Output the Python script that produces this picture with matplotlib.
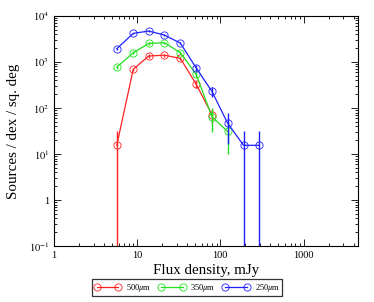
import matplotlib
matplotlib.use("Agg")
import matplotlib.pyplot as plt
import numpy as np
from matplotlib.ticker import FixedLocator, LogLocator, NullFormatter

plt.rcParams['font.family'] = ['Liberation Serif', 'DejaVu Serif']
plt.rcParams['mathtext.fontset'] = 'stix'

# data
x500 = [5.7, 9.0, 13.8, 21.3, 33.1, 51.1, 79.4]
y500 = [15.5, 700, 1350, 1410, 1200, 333, 72]
e500 = [15.5, 60, 110, 120, 100, 60, 25]

x350 = [5.7, 9.0, 13.8, 21.3, 33.1, 51.1, 79.4, 122]
y350 = [776, 1590, 2540, 2630, 1590, 546, 64.5, 31]
e350 = [60, 110, 140, 140, 110, 70, 35, 21]

x250 = [5.7, 9.0, 13.8, 21.3, 33.1, 51.1, 79.4, 122, 190, 294]
y250 = [1945, 4200, 4710, 3855, 2580, 750, 229, 47.6, 15.5, 15.5]
e250 = [110, 160, 180, 150, 130, 100, 57, 31, 15.5, 15.5]

labels = ['500$\\mu$m', '350$\\mu$m', '250$\\mu$m']
colors = ['#ff2020', '#20e020', '#2020ff']

fig = plt.figure(figsize=(3.74, 3.02), dpi=100)
ax = fig.add_axes([0.144, 0.185, 0.813, 0.762])

handles = []
for xs, ys, es, lab, c in zip([x500, x350, x250], [y500, y350, y250],
                              [e500, e350, e250], labels, colors):
    ys = np.array(ys, float)
    es = np.array(es, float)
    lo = np.where(ys - es <= 0, ys - 1e-3, es)
    ax.errorbar(xs, ys, yerr=[lo, es], fmt='none', ecolor=c, elinewidth=1.0,
                capsize=0)
    h, = ax.plot(xs, ys, '-', color=c, lw=0.9, marker='o', markersize=5.2,
                 markerfacecolor='none', markeredgecolor=c, markeredgewidth=0.6,
                 label=lab)
    handles.append(h)

ax.set_xscale('log')
ax.set_yscale('log')
ax.set_xlim(1, 4500)
ax.set_ylim(0.1, 1e4)

ax.xaxis.set_major_locator(FixedLocator([1, 10, 100, 1000]))
ax.set_xticklabels(['1', '10', '100', '1000'])
ax.xaxis.set_minor_locator(LogLocator(base=10, subs=np.arange(2, 10)))
ax.xaxis.set_minor_formatter(NullFormatter())

ax.yaxis.set_major_locator(FixedLocator([0.1, 1, 10, 100, 1000, 10000]))
ax.set_yticklabels(['$10^{-1}$', '1', '$10^{1}$', '$10^{2}$', '$10^{3}$', '$10^{4}$'])
ax.yaxis.set_minor_locator(LogLocator(base=10, subs=np.arange(2, 10)))
ax.yaxis.set_minor_formatter(NullFormatter())

ax.tick_params(which='both', direction='in', top=True, right=True, labelsize=7.5,
               width=0.6, colors='black')
ax.tick_params(which='major', length=5)
ax.tick_params(which='minor', length=2.5)
for s in ax.spines.values():
    s.set_linewidth(0.8)

ax.set_xlabel('Flux density, mJy', fontsize=10.8, labelpad=3)
ax.set_ylabel('Sources / dex / sq. deg', fontsize=10.8, labelpad=6)

leg = fig.legend(handles=handles, loc='center', bbox_to_anchor=(0.5, 0.047),
                 ncol=3, numpoints=2, fontsize=6, frameon=True, fancybox=False,
                 shadow=False, handlelength=3.2, handletextpad=0.6,
                 columnspacing=0.9, borderpad=0.3, borderaxespad=0)
leg.get_frame().set_edgecolor('black')
leg.get_frame().set_linewidth(0.9)

fig.savefig('out.png', dpi=100)
